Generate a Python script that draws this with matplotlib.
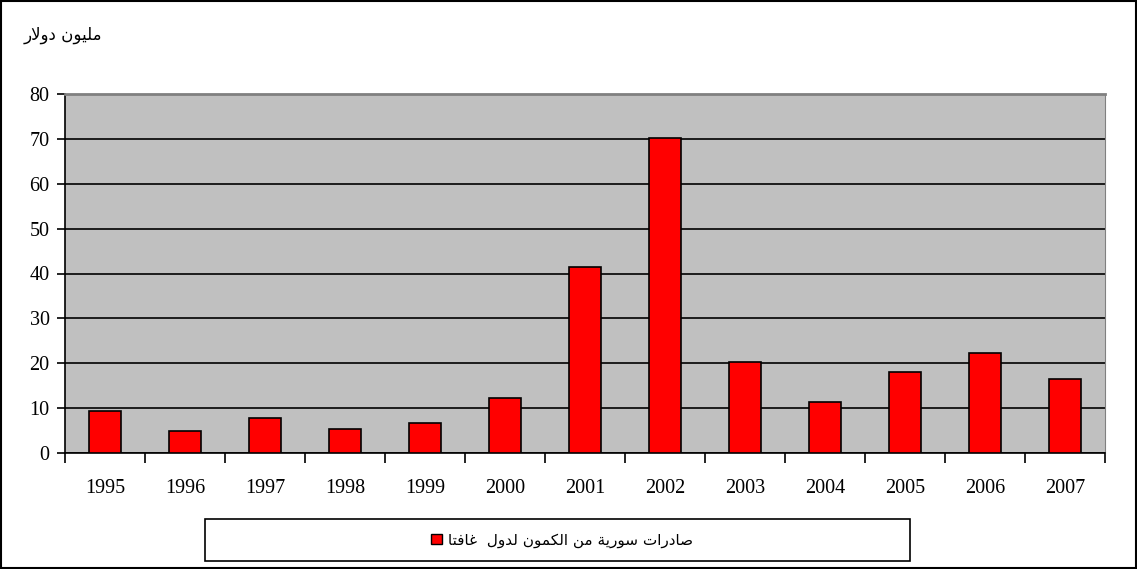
import matplotlib.pyplot as plt
from matplotlib.patches import Rectangle, Patch

# Data
years = ['1995', '1996', '1997', '1998', '1999', '2000', '2001',
         '2002', '2003', '2004', '2005', '2006', '2007']
exports = [9.3, 5.0, 7.7, 5.3, 6.6, 12.2, 41.4, 70.3, 20.2, 11.4, 18.0, 22.2, 16.6]
y_ticks = [0, 10, 20, 30, 40, 50, 60, 70, 80]

unit_label = 'مليون دولار'
series_label = 'صادرات سورية من الكمون لدول  غافتا'

# Minimal Arabic shaping (matplotlib has no bidi / joining)
FORMS = {
    'ا': ('\uFE8D', '\uFE8E', None, None),
    'د': ('\uFEA9', '\uFEAA', None, None),
    'ر': ('\uFEAD', '\uFEAE', None, None),
    'و': ('\uFEED', '\uFEEE', None, None),
    'ة': ('\uFE93', '\uFE94', None, None),
    'ت': ('\uFE95', '\uFE96', '\uFE97', '\uFE98'),
    'س': ('\uFEB1', '\uFEB2', '\uFEB3', '\uFEB4'),
    'ص': ('\uFEB9', '\uFEBA', '\uFEBB', '\uFEBC'),
    'غ': ('\uFECD', '\uFECE', '\uFECF', '\uFED0'),
    'ف': ('\uFED1', '\uFED2', '\uFED3', '\uFED4'),
    'ك': ('\uFED9', '\uFEDA', '\uFEDB', '\uFEDC'),
    'ل': ('\uFEDD', '\uFEDE', '\uFEDF', '\uFEE0'),
    'م': ('\uFEE1', '\uFEE2', '\uFEE3', '\uFEE4'),
    'ن': ('\uFEE5', '\uFEE6', '\uFEE7', '\uFEE8'),
    'ي': ('\uFEF1', '\uFEF2', '\uFEF3', '\uFEF4'),
    'لا': ('\uFEFB', '\uFEFC', None, None),
}


def shape_word(word):
    letters = []
    i = 0
    while i < len(word):
        if word[i] == 'ل' and i + 1 < len(word) and word[i + 1] == 'ا':
            letters.append('لا')
            i += 2
        else:
            letters.append(word[i])
            i += 1
    out = []
    for k, ch in enumerate(letters):
        iso, fin, ini, med = FORMS[ch]
        prev_joins = k > 0 and FORMS[letters[k - 1]][2] is not None
        next_exists = k + 1 < len(letters)
        can_left = ini is not None and next_exists
        if prev_joins and can_left:
            out.append(med)
        elif prev_joins:
            out.append(fin)
        elif can_left:
            out.append(ini)
        else:
            out.append(iso)
    return ''.join(out)[::-1]


def rtl(text):
    words = text.split(' ')
    return ' '.join(shape_word(w) if w else '' for w in words[::-1])


fig = plt.figure(figsize=(11.37, 5.69), dpi=100)
ax = fig.add_axes([65 / 1137, 1 - 453 / 569, 1040 / 1137, 359 / 569])
ax.set_facecolor('#C0C0C0')

x = list(range(len(years)))
ax.bar(x, exports, width=0.41, color='#FF0000', edgecolor='black', linewidth=1.2, zorder=3)

ax.set_xlim(-0.5, len(years) - 0.5)
ax.set_ylim(0, 80)
ax.set_yticks(y_ticks)
ax.yaxis.grid(True, color='black', linewidth=1.2, zorder=1)
ax.set_axisbelow(True)

ax.set_xticks(x)
ax.set_xticklabels(years)
ax.set_xticks([i - 0.5 for i in range(len(years) + 1)], minor=True)
ax.tick_params(axis='x', which='major', length=0, pad=19)
ax.tick_params(axis='x', which='minor', length=7, width=1.2, direction='out')
ax.tick_params(axis='y', length=6, width=1.2, direction='out', pad=5)

for lab in ax.get_xticklabels() + ax.get_yticklabels():
    lab.set_fontfamily('Liberation Serif')
    lab.set_fontsize(14.5)

ax.spines['left'].set_color('black')
ax.spines['bottom'].set_color('black')
ax.spines['left'].set_linewidth(1.2)
ax.spines['bottom'].set_linewidth(1.2)
ax.spines['top'].set_color('#808080')
ax.spines['right'].set_color('#808080')
ax.spines['top'].set_linewidth(2)

# unit label
fig.text(24 / 1137, 1 - 35 / 569, rtl(unit_label), family='DejaVu Sans',
         fontsize=12, ha='left', va='center')

# legend box
fig.patches.append(Rectangle((205 / 1137, 1 - 561 / 569), 705 / 1137, 42 / 569,
                             transform=fig.transFigure, facecolor='white',
                             edgecolor='black', linewidth=1.2))
handle = Patch(facecolor='#FF0000', edgecolor='black', linewidth=1)
fig.legend([handle], [rtl(series_label)], loc='center',
           bbox_to_anchor=(562 / 1137, 1 - 540 / 569), frameon=False,
           prop={'family': 'DejaVu Sans', 'size': 11},
           handlelength=0.7, handleheight=0.7, handletextpad=0.4)

# figure border
fig.patches.append(Rectangle((0.001, 0.001), 0.998, 0.998, transform=fig.transFigure,
                             fill=False, edgecolor='black', linewidth=1.5))

fig.savefig('out.png', dpi=100)
